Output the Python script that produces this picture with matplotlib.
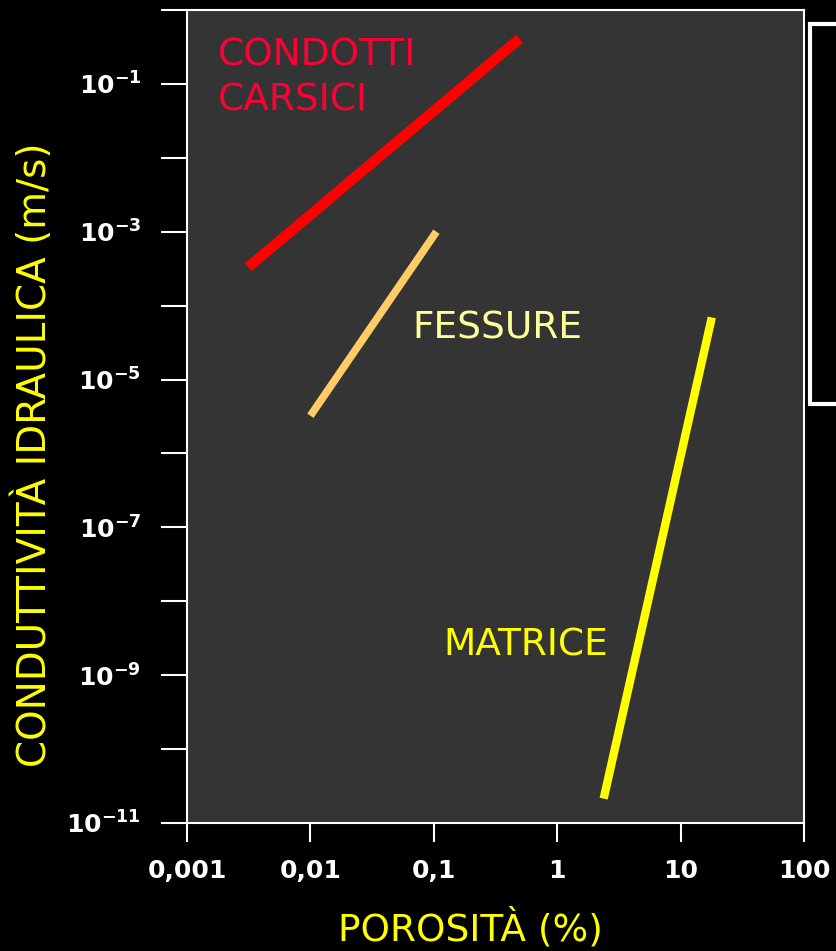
import numpy as np
import matplotlib
matplotlib.use('Agg')
import matplotlib.pyplot as plt
from matplotlib.patches import Rectangle

# data (porosity %, conductivity m/s)
carsici_x = [0.00313, 0.495]
carsici_y = [10**-3.48, 10**-0.39]
fessure_x = [0.01, 0.105]
fessure_y = [10**-5.49, 10**-3.0]
matrice_x = [2.38, 17.9]
matrice_y = [10**-10.67, 10**-4.16]

x_ticks = [0.001, 0.01, 0.1, 1, 10, 100]
x_labels = ['0,001', '0,01', '0,1', '1', '10', '100']
y_exp = list(range(-11, 1))
y_labels = [(r'$\mathbf{10^{%d}}$' % e) if e % 2 else '' for e in y_exp]

plt.rcParams['font.family'] = ['DejaVu Sans']
plt.rcParams['mathtext.fontset'] = 'dejavusans'

fig = plt.figure(figsize=(8.37, 9.51), dpi=100, facecolor='black')
ax = fig.add_axes([187/837, 1 - 823/951, (804-187)/837, (823-10)/951])
ax.set_facecolor('#343434')

ax.plot(carsici_x, carsici_y, color='#ff0000', lw=7.5, solid_capstyle='butt')
ax.plot(fessure_x, fessure_y, color='#ffcc66', lw=5.5, solid_capstyle='butt')
ax.plot(matrice_x, matrice_y, color='#ffff00', lw=6, solid_capstyle='butt')

ax.set_xscale('log')
ax.set_yscale('log')
ax.set_xlim(0.001, 100)
ax.set_ylim(1e-11, 1)

ax.set_xticks(x_ticks)
ax.set_xticklabels(x_labels)
ax.set_yticks([10.0**e for e in y_exp])
ax.set_yticklabels(y_labels)
ax.minorticks_off()
ax.tick_params(axis='x', colors='white', length=14, width=1.5, pad=12,
               labelsize=18)
ax.tick_params(axis='y', colors='white', length=19, width=1.5, pad=14,
               labelsize=18)
for lab in ax.get_xticklabels() + ax.get_yticklabels():
    lab.set_fontweight('bold')
for s in ax.spines.values():
    s.set_color('white')
    s.set_linewidth(1.5)

ax.set_xlabel('POROSITÀ (%)', color='#ffff00', fontsize=27)
ax.xaxis.set_label_coords(0.4587, -0.104)
ax.set_ylabel('CONDUTTIVITÀ IDRAULICA (m/s)', color='#ffff00', fontsize=28)
ax.yaxis.set_label_coords(-0.216, 0.4526)

ax.text(0.00179, 10**-0.756, 'CONDOTTI', color='#ff0033', fontsize=27,
        va='baseline', ha='left')
ax.text(0.00179, 10**-1.366, 'CARSICI', color='#ff0033', fontsize=27,
        va='baseline', ha='left')
ax.text(0.067, 10**-4.446, 'FESSURE', color='#ffff99', fontsize=27,
        va='baseline', ha='left')
ax.text(0.12, 10**-8.734, 'MATRICE', color='#ffff00', fontsize=27,
        va='baseline', ha='left')

# cut-off legend box at the right edge
fig.patches.append(Rectangle((810/837, 1 - 404/951), 40/837, (404-24)/951,
                             transform=fig.transFigure, facecolor='black',
                             edgecolor='white', linewidth=3))
fig.text(834/837, 1 - 160/951, 'I', color='white', fontsize=24, va='baseline')
fig.text(834/837, 1 - 212/951, 'K', color='white', fontsize=24, va='baseline')
fig.text(834/837, 1 - 340/951, '·', color='white', fontsize=24, va='baseline')

fig.savefig('out.png', dpi=100, facecolor='black')
